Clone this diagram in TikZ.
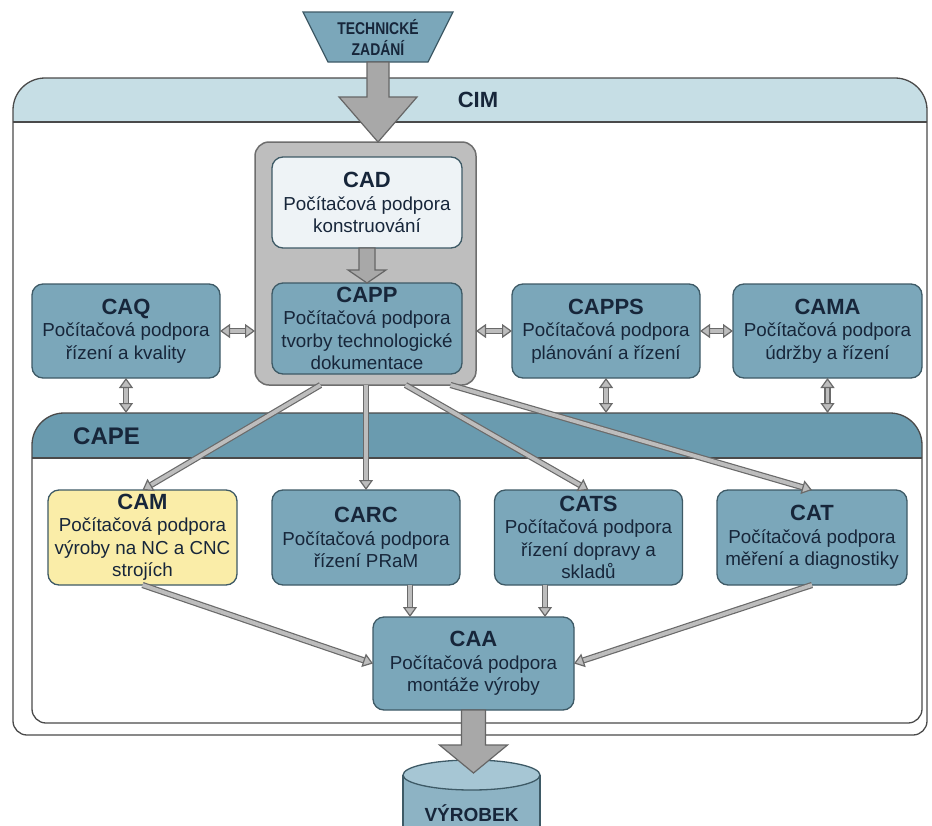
\documentclass[tikz,border=0pt]{standalone}
\usepackage{fontspec}
\setmainfont{Liberation Sans}
\newfontfamily\narrowsans[FakeStretch=0.82]{Liberation Sans}
\usetikzlibrary{arrows.meta,calc}
\definecolor{boxfill}{HTML}{7BA7BA}
\definecolor{boxline}{HTML}{3E5A66}
\definecolor{cimband}{HTML}{C6DEE5}
\definecolor{capeband}{HTML}{6A9BAF}
\definecolor{cadfill}{HTML}{EEF3F6}
\definecolor{camfill}{HTML}{FAEDA8}
\definecolor{contfill}{HTML}{BEBEBE}
\definecolor{contline}{HTML}{6E6E6E}
\definecolor{arrfill}{HTML}{A8A8A8}
\definecolor{arrline}{HTML}{666666}
\definecolor{connin}{HTML}{BDBDBD}
\definecolor{connout}{HTML}{6A6A6A}
\definecolor{txt}{HTML}{17263A}
\definecolor{framecol}{HTML}{4A4A4A}
\definecolor{cylfill}{HTML}{8DB3C4}
\definecolor{cyltop}{HTML}{A6C6D4}
\newcommand\hd[1]{{\fontsize{22}{22.5}\selectfont\bfseries #1}}
\newcommand\blockarrowv[5]{\draw[blockarr] let \p1=(#1), \p2=(#2) in (\x1-#3,\y1) -- (\x1-#3,\y2+#5) -- (\x1-#4,\y2+#5) -- (\x1,\y2) -- (\x1+#4,\y2+#5) -- (\x1+#3,\y2+#5) -- (\x1+#3,\y1) -- cycle;}
\begin{document}
\begin{tikzpicture}[x=1pt,y=-1pt,
  box/.style={rounded corners=11pt, draw=boxline, line width=1.3pt, fill=boxfill, align=center, text=txt,
    font=\fontsize{18.8}{22.5}\selectfont, inner sep=1pt, outer sep=0pt, minimum width=188pt, minimum height=94pt},
  blockarr/.style={draw=arrline, fill=arrfill, line width=1.2pt, line join=miter},
  tipA/.tip={Triangle[length=10pt,width=14pt,fill=connin]},
  conn/.style={draw=connout, line width=1.2pt, double=connin, double distance=3.8pt, -tipA},
  conn2/.style={conn, tipA-tipA},
  frame/.style={draw=framecol, line width=1.3pt},
  title/.style={font=\bfseries, text=txt, inner sep=0pt}
]
\useasboundingbox (0,0) rectangle (932,825);
\fill[white] (0,0) rectangle (932,825);

% CIM frame
\fill[white] (13,400) [rounded corners=32pt] -- (13,78) -- (927,78) -- (927,400) [rounded corners=14pt] -- (927,735) -- (13,735) -- cycle;
\begin{scope}
  \clip (13,400) [rounded corners=32pt] -- (13,78) -- (927,78) -- (927,400) [rounded corners=14pt] -- (927,735) -- (13,735) -- cycle;
  \fill[cimband] (0,70) rectangle (932,122);
\end{scope}
\draw[frame] (13,122) -- (927,122);
\draw[frame] (13,400) [rounded corners=32pt] -- (13,78) -- (927,78) -- (927,400) [rounded corners=14pt] -- (927,735) -- (13,735) -- cycle;
\node[title, font=\fontsize{22}{22}\selectfont\bfseries] (cim) at (478,100) {CIM};

% CAPE frame
\fill[white] (32,550) [rounded corners=32pt] -- (32,413) -- (922,413) -- (922,550) [rounded corners=14pt] -- (922,723) -- (32,723) -- cycle;
\begin{scope}
  \clip (32,550) [rounded corners=32pt] -- (32,413) -- (922,413) -- (922,550) [rounded corners=14pt] -- (922,723) -- (32,723) -- cycle;
  \fill[capeband] (0,405) rectangle (932,458);
\end{scope}
\draw[frame] (32,458) -- (922,458);
\draw[frame] (32,550) [rounded corners=32pt] -- (32,413) -- (922,413) -- (922,550) [rounded corners=14pt] -- (922,723) -- (32,723) -- cycle;
\node[title, font=\fontsize{24}{24}\selectfont\bfseries, anchor=west] (cape) at (73,436) {CAPE};
\coordinate (capetop) at (477,413);

% container
\node[draw=contline, fill=contfill, rounded corners=14pt, line width=1.5pt, minimum width=221pt, minimum height=243pt, outer sep=0pt] (cont) at (365.5,263.5) {};

% boxes
\node[box, fill=cadfill, minimum width=190pt, minimum height=91pt] (cad) at (367,202.5) {\hd{CAD}\\Počítačová podpora\\konstruování};
\node[box, minimum width=190pt, minimum height=91pt] (capp) at (367,328.5) {\hd{CAPP}\\Počítačová podpora\\tvorby technologické\\dokumentace};
\node[box] (caq) at (126,331) {\hd{CAQ}\\Počítačová podpora\\řízení a kvality};
\node[box] (capps) at (606,331) {\hd{CAPPS}\\Počítačová podpora\\plánování a řízení};
\node[box, minimum width=189pt] (cama) at (827.5,331) {\hd{CAMA}\\Počítačová podpora\\údržby a řízení};

\node[box, fill=camfill, minimum width=189pt, minimum height=95pt] (cam) at (142.5,537.5) {\hd{CAM}\\Počítačová podpora\\výroby na NC a CNC\\strojích};
\node[box, minimum height=95pt] (carc) at (366,537.5) {\hd{CARC}\\Počítačová podpora\\řízení PRaM};
\node[box, minimum height=95pt] (cats) at (588.5,537.5) {\hd{CATS}\\Počítačová podpora\\řízení dopravy a\\skladů};
\node[box, minimum width=190pt, minimum height=95pt] (cat) at (812,537.5) {\hd{CAT}\\Počítačová podpora\\měření a diagnostiky};
\node[box, minimum width=201pt, minimum height=93pt] (caa) at (473.5,663.5) {\hd{CAA}\\Počítačová podpora\\montáže výroby};

% TECHNICKÉ ZADÁNÍ
\node[minimum width=150pt, minimum height=50pt, inner sep=0pt, outer sep=0pt] (tz) at (378,37) {};
\draw[draw=boxline, fill=boxfill, line width=1.3pt] (tz.north west) -- (tz.north east) -- ([xshift=-25pt]tz.south east) -- ([xshift=25pt]tz.south west) -- cycle;
\node[align=center, text=txt, inner sep=0pt, font=\narrowsans\bfseries\fontsize{17}{21}\selectfont] (tzt) at (tz.center) {TECHNICKÉ\\ZADÁNÍ};

% VÝROBEK cylinder
\fill[cylfill] (403,775) rectangle (540,850);
\draw[draw=boxline, line width=1.3pt] (403,775) -- (403,850) (540,775) -- (540,850);
\draw[draw=boxline, line width=1.3pt, fill=cyltop] (471.5,775) ellipse [x radius=68.5, y radius=15];
\node[title, font=\fontsize{19}{19}\selectfont\bfseries] (vy) at (471.5,813) {VÝROBEK};
\coordinate (cyltop) at (471.5,773);

% block arrows
\blockarrowv{[yshift=-25pt]tz.center}{cont.north}{11pt}{39pt}{45pt}
\blockarrowv{cad.south}{capp.north}{8pt}{19pt}{13pt}
\blockarrowv{caa.south}{cyltop}{12pt}{34pt}{28pt}

% double connectors
\draw[conn2] (caq.east) -- (caq.east -| cont.west);
\draw[conn2] (capps.west -| cont.east) -- (capps.west);
\draw[conn2] (capps.east) -- (cama.west);
\draw[conn2] (caq.south) -- (caq.south |- capetop);
\draw[conn2] (capps.south) -- (capps.south |- capetop);
\draw[conn2] (cama.south) -- (cama.south |- capetop);

% from CAPP container to CAPE modules
\draw[conn] ([xshift=-45pt]cont.south) -- (cam.north);
\draw[conn] (carc.north |- cont.south) -- (carc.north);
\draw[conn] ([xshift=40pt]cont.south) -- (cats.north);
\draw[conn] ([xshift=85pt]cont.south) -- (cat.north);

% to CAA
\draw[conn] (cam.south) -- (caa.west);
\draw[conn] ([xshift=44pt]carc.south) -- ([xshift=44pt]carc.south |- caa.north);
\draw[conn] ([xshift=-43.5pt]cats.south) -- ([xshift=-43.5pt]cats.south |- caa.north);
\draw[conn] (cat.south) -- (caa.east);
\end{tikzpicture}
\end{document}
